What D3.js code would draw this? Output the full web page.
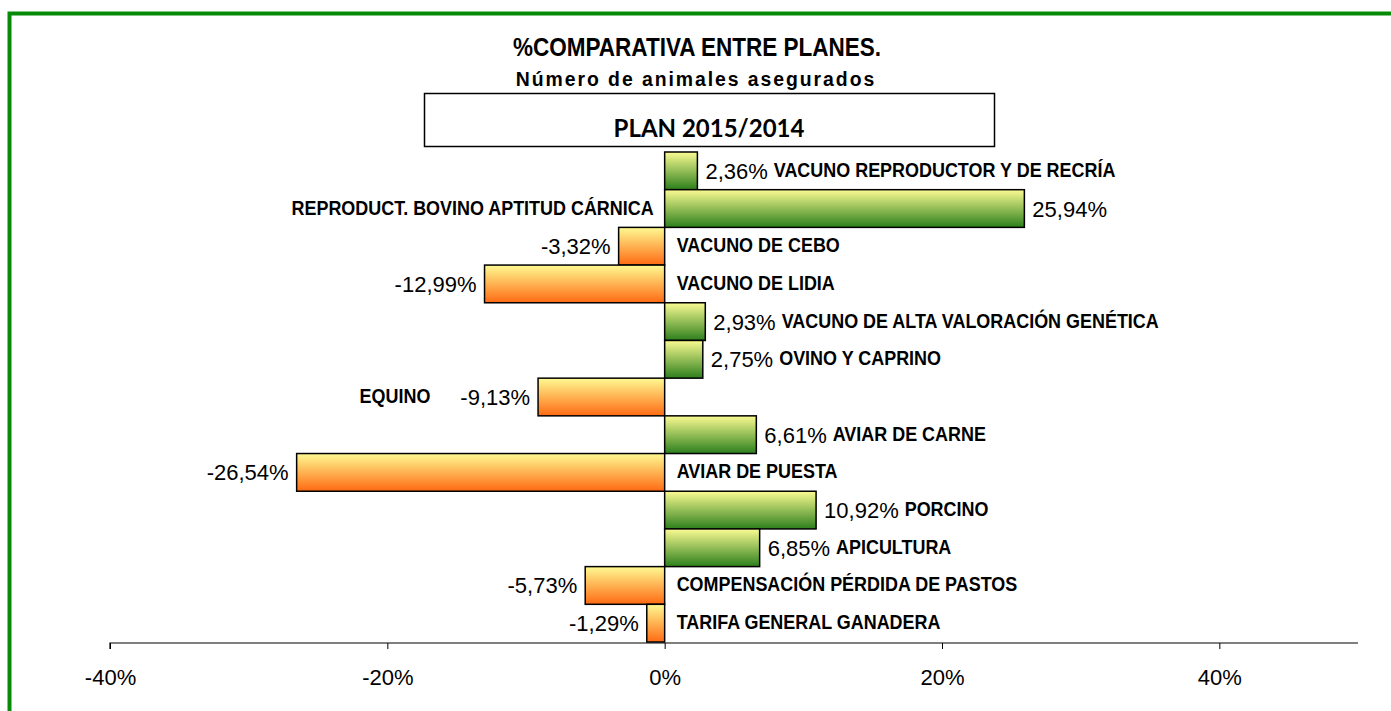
<!DOCTYPE html>
<html>
<head>
<meta charset="utf-8" />
<title>% Comparativa entre planes</title>
<script src="https://d3js.org/d3.v7.min.js"></script>
<style>
  body { margin: 0; background: #fff; }
</style>
</head>
<body>
<script>

var categories = [
	"VACUNO REPRODUCTOR Y DE RECRÍA",
	"REPRODUCT. BOVINO APTITUD CÁRNICA",
	"VACUNO DE CEBO",
	"VACUNO DE LIDIA",
	"VACUNO DE ALTA VALORACIÓN GENÉTICA",
	"OVINO Y CAPRINO",
	"EQUINO",
	"AVIAR DE CARNE",
	"AVIAR DE PUESTA",
	"PORCINO",
	"APICULTURA",
	"COMPENSACIÓN PÉRDIDA DE PASTOS",
	"TARIFA GENERAL GANADERA"
];
var values = [2.36, 25.94, -3.32, -12.99, 2.93, 2.75, -9.13, 6.61, -26.54, 10.92, 6.85, -5.73, -1.29];
var ticks = [-40, -20, 0, 20, 40];

// where the category name sits, as in the original sheet
var labelSide = ["after", "left", "right", "right", "after", "after", "beforeValue", "after", "right", "after", "after", "right", "right"];

var W = 1391, H = 711;
var narrow = "'Liberation Sans Narrow', 'Arial Narrow', 'Liberation Sans', sans-serif";
var regular = "'Liberation Sans', Arial, sans-serif";

var svg = d3.select("body").append("svg")
	.attr("width", W)
	.attr("height", H);

var defs = svg.append("defs");
function grad(id, top, bottom) {
	var g = defs.append("linearGradient").attr("id", id)
		.attr("x1", 0).attr("y1", 0).attr("x2", 0).attr("y2", 1);
	g.append("stop").attr("offset", "0%").attr("stop-color", top);
	g.append("stop").attr("offset", "100%").attr("stop-color", bottom);
}
grad("gPos", "#fbfb92", "#2c7f1c");
grad("gNeg", "#fefa92", "#ff6a12");

// squeeze a bold label a bit so it reads like the narrow face of the original
function squeeze(sel, k) {
	sel.each(function() {
		var w = this.getComputedTextLength();
		d3.select(this).attr("textLength", w * k).attr("lengthAdjust", "spacingAndGlyphs");
	});
}

// frame
svg.append("path")
	.attr("d", "M9.5," + H + " V13.5 H" + W)
	.attr("fill", "none")
	.attr("stroke", "#078a07")
	.attr("stroke-width", 4);

// titles
svg.append("text")
	.attr("x", 697).attr("y", 56)
	.attr("text-anchor", "middle")
	.attr("font-family", narrow)
	.attr("font-weight", "bold")
	.attr("font-size", "25px")
	.text("%COMPARATIVA ENTRE PLANES.")
	.call(squeeze, 0.9);

svg.append("text")
	.attr("x", 696).attr("y", 86)
	.attr("text-anchor", "middle")
	.attr("font-family", regular)
	.attr("font-weight", "bold")
	.attr("font-size", "20px")
	.attr("letter-spacing", "2px")
	.text("Número de animales asegurados")
	.call(squeeze, 0.97);

svg.append("rect")
	.attr("x", 424.5).attr("y", 93.5)
	.attr("width", 570).attr("height", 53)
	.attr("fill", "#fff")
	.attr("stroke", "#000")
	.attr("stroke-width", 1.5);

svg.append("text")
	.attr("x", 709).attr("y", 137)
	.attr("text-anchor", "middle")
	.attr("font-family", "Lato, 'Open Sans', sans-serif")
	.attr("font-weight", "bold")
	.attr("font-size", "24px")
	.text("PLAN 2015/2014");

// scales
var x = d3.scaleLinear().domain([-40, 50]).range([110, 1358]);
var y = d3.scaleBand().domain(categories).range([152, 642]).padding(0);

function pct(v) { return String(v).replace("−", "-") + "%"; }
function fmt(v) { return d3.format(".2f")(v).replace("−", "-").replace(".", ",") + "%"; }

// axis
var axis = svg.append("g")
	.attr("transform", "translate(0,643)")
	.call(d3.axisBottom(x)
		.tickValues(ticks)
		.tickSize(6)
		.tickPadding(20)
		.tickFormat(pct));
axis.select(".domain").attr("stroke", "#000").attr("stroke-width", 1.2)
	.attr("d", "M" + x(-40) + ",6V0H" + x(50));
axis.selectAll(".tick line").attr("stroke", "#000");
axis.selectAll(".tick text")
	.attr("font-family", regular)
	.attr("font-size", "22px")
	.attr("fill", "#000");

// bars
var data = categories.map(function(c, i){ return { cat: c, v: values[i], side: labelSide[i] }; });

svg.selectAll("rect.bar")
	.data(data)
	.enter()
	.append("rect")
	.attr("class", "bar")
	.attr("x", function(d){ return x(Math.min(0, d.v)); })
	.attr("y", function(d){ return y(d.cat); })
	.attr("width", function(d){ return Math.abs(x(d.v) - x(0)); })
	.attr("height", y.bandwidth())
	.attr("fill", function(d){ return d.v >= 0 ? "url(#gPos)" : "url(#gNeg)"; })
	.attr("stroke", "#000")
	.attr("stroke-width", 1.5);

// value labels
var valueWidth = [];
svg.selectAll("text.val")
	.data(data)
	.enter()
	.append("text")
	.attr("class", "val")
	.attr("x", function(d){ return d.v >= 0 ? x(d.v) + 8 : x(d.v) - 8; })
	.attr("y", function(d){ return y(d.cat) + y.bandwidth() / 2 + 8; })
	.attr("text-anchor", function(d){ return d.v >= 0 ? "start" : "end"; })
	.attr("font-family", regular)
	.attr("font-size", "22px")
	.text(function(d){ return fmt(d.v); })
	.each(function(d){ valueWidth.push(this.getComputedTextLength()); });

// category labels
svg.selectAll("text.cat")
	.data(data)
	.enter()
	.append("text")
	.attr("class", "cat")
	.attr("x", function(d, i){
		if (d.side === "after") return x(d.v) + 8 + valueWidth[i] + 6;
		if (d.side === "left") return x(0) - 11;
		if (d.side === "beforeValue") return x(d.v) - 8 - valueWidth[i] - 30;
		return x(0) + 12;
	})
	.attr("y", function(d){ return y(d.cat) + y.bandwidth() / 2 + 6; })
	.attr("text-anchor", function(d){ return (d.side === "left" || d.side === "beforeValue") ? "end" : "start"; })
	.attr("font-family", narrow)
	.attr("font-weight", "bold")
	.attr("font-size", "19.5px")
	.text(function(d){ return d.cat; })
	.call(squeeze, 0.92);

</script>
</body>
</html>
